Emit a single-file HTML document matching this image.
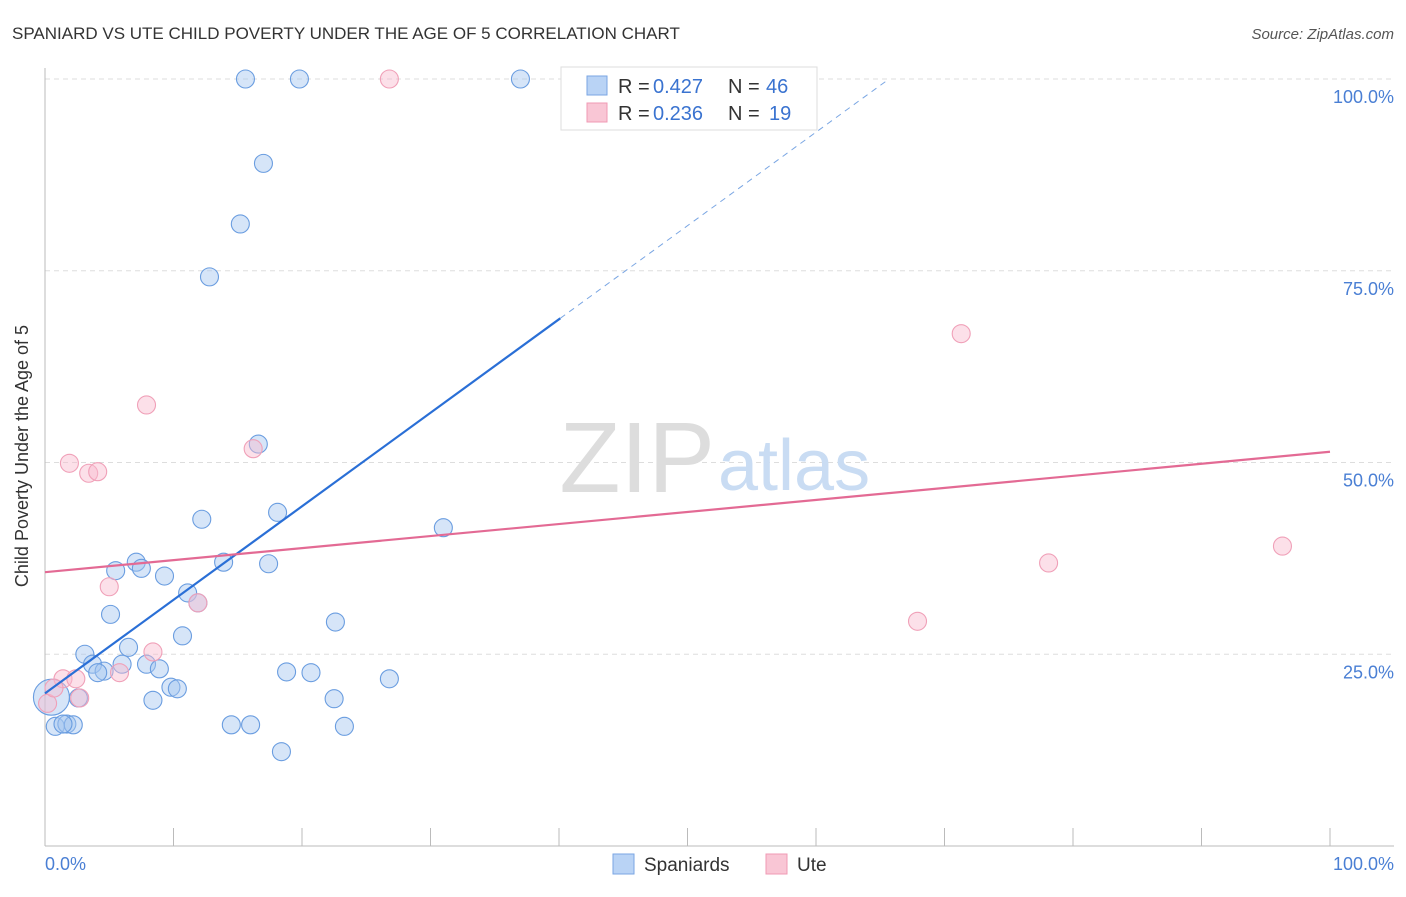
<!DOCTYPE html>
<html><head><meta charset="utf-8"><style>
body{margin:0;background:#fff;font-family:"Liberation Sans",sans-serif}
svg text{font-family:"Liberation Sans",sans-serif}
</style></head><body>
<svg width="1406" height="892">
<text x="12" y="39" font-size="17" fill="#333">SPANIARD VS UTE CHILD POVERTY UNDER THE AGE OF 5 CORRELATION CHART</text>
<text x="1394" y="39" font-size="15" fill="#555" text-anchor="end" font-style="italic">Source: ZipAtlas.com</text>
<g id="grid"></g>
<text x="715" y="492" font-size="100" fill="#ddd" text-anchor="end" font-family="Liberation Serif">ZIP</text>
<text x="718" y="490" font-size="72" fill="#c9dcf3">atlas</text>
<g id="marks"></g>
<text x="28" y="456" font-size="18" fill="#333" text-anchor="middle" transform="rotate(-90 28 456)">Child Poverty Under the Age of 5</text>
<text x="45" y="870" font-size="18" fill="#4a7fd4">0.0%</text>
<text x="1394" y="870" font-size="18" fill="#4a7fd4" text-anchor="end">100.0%</text>
<g>
<rect x="561" y="67" width="256" height="63" fill="#fff" stroke="#ddd"/>
<rect x="587" y="76" width="20" height="19" fill="#b9d3f5" stroke="#7aa6e3"/>
<rect x="587" y="103" width="20" height="19" fill="#f9c6d5" stroke="#f09ab4"/>
<text x="618" y="93" font-size="20" fill="#333">R =</text>
<text x="653" y="93" font-size="20" fill="#3a73d0">0.427</text>
<text x="728" y="93" font-size="20" fill="#333">N =</text>
<text x="766" y="93" font-size="20" fill="#3a73d0">46</text>
<text x="618" y="120" font-size="20" fill="#333">R =</text>
<text x="653" y="120" font-size="20" fill="#3a73d0">0.236</text>
<text x="728" y="120" font-size="20" fill="#333">N =</text>
<text x="769" y="120" font-size="20" fill="#3a73d0">19</text>
</g>
<g>
<rect x="613" y="854" width="21" height="20" fill="#b9d3f5" stroke="#7aa6e3"/>
<text x="644" y="871" font-size="19" fill="#333">Spaniards</text>
<rect x="766" y="854" width="21" height="20" fill="#f9c6d5" stroke="#f09ab4"/>
<text x="797" y="871" font-size="19" fill="#333">Ute</text>
</g>
</svg>
<script>
const blueX=[15.6,19.8,37.0,17.0,15.2,12.8,16.6,12.2,18.1,31.0,7.1,5.5,7.5,9.3,13.9,17.4,5.1,11.1,11.9,22.6,10.7,6.5,3.1,3.7,6.0,7.9,8.9,4.6,4.1,18.8,20.7,26.8,9.8,10.3,8.4,22.5,2.6,0.8,1.7,2.2,14.5,16.0,23.3,18.4,1.4];
const blueY=[100,100,100,89.0,81.1,74.2,52.4,42.6,43.5,41.5,37.0,35.9,36.2,35.2,37.0,36.8,30.2,33.0,31.7,29.2,27.4,25.9,25.0,23.7,23.7,23.7,23.1,22.8,22.6,22.7,22.6,21.8,20.7,20.5,19.0,19.2,19.3,15.6,15.9,15.8,15.8,15.8,15.6,12.3,15.9];
const pinkX=[26.8,71.3,7.9,1.9,3.4,4.1,16.2,5.0,11.9,78.1,67.9,96.3,8.4,5.8,1.4,2.4,2.7,0.2,0.7];
const pinkY=[100,66.8,57.5,49.9,48.6,48.8,51.8,33.8,31.7,36.9,29.3,39.1,25.3,22.6,21.8,21.8,19.3,18.6,20.6];
const yTicks=[25,50,75,100];
const yTickLabels=["25.0%","50.0%","75.0%","100.0%"];
const blueTrend=[19.9,68.8,40.1];
const pinkTrend=[35.7,51.4];
const NS="http://www.w3.org/2000/svg";
const sx=v=>45+v*12.85, sy=v=>846-v*7.67;
function mk(p,t,a){const e=document.createElementNS(NS,t);for(const k in a)e.setAttribute(k,a[k]);p.appendChild(e);return e;}
const g=document.getElementById('grid'),m=document.getElementById('marks');
yTicks.forEach((t,i)=>{const l=mk(g,'line',{x1:45,x2:1394,y1:sy(t),y2:sy(t),stroke:'#ddd','stroke-dasharray':'5,4'});


const tx=mk(g,'text',{x:1394,y:sy(t)+24,'font-size':18,fill:'#4a7fd4','text-anchor':'end'});tx.textContent=yTickLabels[i];

});
mk(g,'line',{x1:45,x2:45,y1:68,y2:846,stroke:'#bbb'});
mk(g,'line',{x1:45,x2:1394,y1:846,y2:846,stroke:'#bbb'});
for(let i=0;i<=10;i++){const t=mk(g,'line',{x1:sx(i*10),x2:sx(i*10),y1:828,y2:846,stroke:'#bbb'});

}
blueX.forEach((x,i)=>{const c=mk(m,'circle',{cx:sx(x),cy:sy(blueY[i]),r:9,fill:'rgba(164,198,240,0.45)',stroke:'#6a9de0','stroke-width':1.1});

});
const big=mk(m,'circle',{cx:sx(0.5),cy:sy(19.4),r:18,fill:'rgba(164,198,240,0.45)',stroke:'#6a9de0','stroke-width':1.1});


pinkX.forEach((x,i)=>{const c=mk(m,'circle',{cx:sx(x),cy:sy(pinkY[i]),r:9,fill:'rgba(248,187,206,0.45)',stroke:'#f0a0b8','stroke-width':1.1});

});
const slope=(blueTrend[1]-blueTrend[0])/blueTrend[2];
const xEnd=(100-blueTrend[0])/slope;
const bl=mk(m,'line',{x1:sx(0),y1:sy(blueTrend[0]),x2:sx(blueTrend[2]),y2:sy(blueTrend[1]),stroke:'#2a6fd6','stroke-width':2.2});


const bd=mk(m,'line',{x1:sx(blueTrend[2]),y1:sy(blueTrend[1]),x2:sx(xEnd),y2:sy(100),stroke:'#7aa6e3','stroke-width':1,'stroke-dasharray':'6,5'});


const pl=mk(m,'line',{x1:sx(0),y1:sy(pinkTrend[0]),x2:sx(100),y2:sy(pinkTrend[1]),stroke:'#e36a94','stroke-width':2.2});


</script>
</body></html>
